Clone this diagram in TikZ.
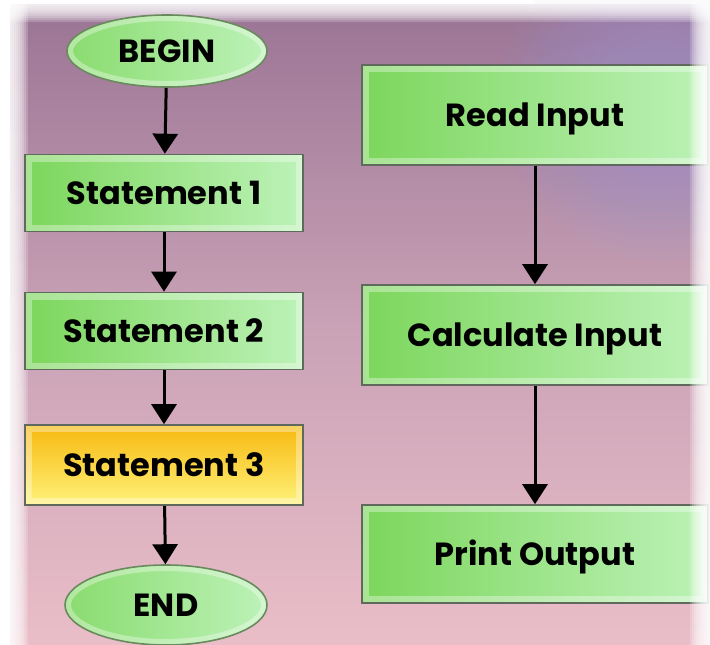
\documentclass[tikz,border=0pt]{standalone}
\usepackage{fontspec}
\setmainfont{Poppins}
\usetikzlibrary{positioning, arrows.meta, shapes.geometric}

\definecolor{bgtop}{HTML}{9A7494}
\definecolor{bgmid}{HTML}{C9A2B6}
\definecolor{bgbot}{HTML}{EABEC8}
\definecolor{bgblue}{HTML}{9C9AD8}
\definecolor{greendark}{HTML}{7CD65C}
\definecolor{greenlight}{HTML}{BDF2B8}
\definecolor{yellowtop}{HTML}{F7B90F}
\definecolor{yellowbot}{HTML}{FFF27A}
\definecolor{edgegray}{HTML}{5F6A5C}

\begin{document}
\begin{tikzpicture}[
		x=1pt, y=-1pt,
		>={Triangle[width=25pt, length=20pt]},
		boxtext/.style={font=\fontsize{32}{36}\selectfont\bfseries, text height=23pt, text depth=1pt},
		bevel/.style={path picture={\draw[white, opacity=0.35, line width=14pt] (path picture bounding box.north west) rectangle (path picture bounding box.south east);}},
		roundbevel/.style 2 args={path picture={\draw[white, opacity=0.35, line width=12pt] (path picture bounding box.center) ellipse [x radius=#1, y radius=#2];}},
		flowbox/.style={draw=edgegray, line width=1.6pt, rectangle, left color=greendark, right color=greenlight, bevel, boxtext},
		hotbox/.style={draw=edgegray, line width=1.6pt, rectangle, top color=yellowtop, bottom color=yellowbot, bevel, boxtext},
		terminal/.style={draw=edgegray!70!greendark, line width=1.6pt, ellipse, left color=greendark!80!greenlight, right color=greenlight, boxtext},
		flow/.style={->, line width=3pt}
	]

	% background
	\useasboundingbox (0,0) rectangle (710,645);
	\fill[white] (0,0) rectangle (710,645);
	\shade[top color=bgtop, bottom color=bgbot, middle color=bgmid] (10,4) rectangle (710,645);
	\foreach \r in {160,150,...,60}
		\fill[bgblue, opacity=0.06] (660,100) circle (\r);
	\foreach \k in {0,...,9}
		\fill[white, opacity=0.2] (0,0) rectangle ({10+2*\k},645);
	\foreach \k in {0,...,9}
		\fill[white, opacity=0.2] (0,0) rectangle (710,{4+2*\k});

	% left column
	\node[terminal, roundbevel={100pt}{36pt}, minimum width=200pt, minimum height=72pt] (begin) at (167, 51) {BEGIN};
	\node[flowbox, minimum width=278pt, minimum height=77pt] (stmtA) at (164, 193) {Statement 1};
	\node[flowbox, minimum width=278pt, minimum height=77pt] (stmtB) at (164, 331) {Statement 2};
	\node[hotbox, minimum width=278pt, minimum height=80pt] (stmtC) at (164, 465) {Statement 3};
	\node[terminal, roundbevel={101pt}{40pt}, minimum width=202pt, minimum height=80pt] (end) at (166, 605) {END};
	\draw [flow] (begin) -- (stmtA);
	\draw [flow] (stmtA) -- (stmtB);
	\draw [flow] (stmtB) -- (stmtC);
	\draw [flow] (stmtC) -- (end);

	% right column
	\node[flowbox, minimum width=346pt, minimum height=100pt] (read) at (535, 115) {Read Input};
	\node[flowbox, minimum width=346pt, minimum height=100pt] (calc) at (535, 335) {Calculate Input};
	\node[flowbox, minimum width=346pt, minimum height=98pt] (print) at (535, 554) {Print Output};
	\draw [flow] (read) -- (calc);
	\draw [flow] (calc) -- (print);

	% soft right edge
	\foreach \k in {0,...,9}
		\fill[white, opacity=0.2] ({690+2*\k},0) rectangle (710,645);

\end{tikzpicture}
\end{document}
